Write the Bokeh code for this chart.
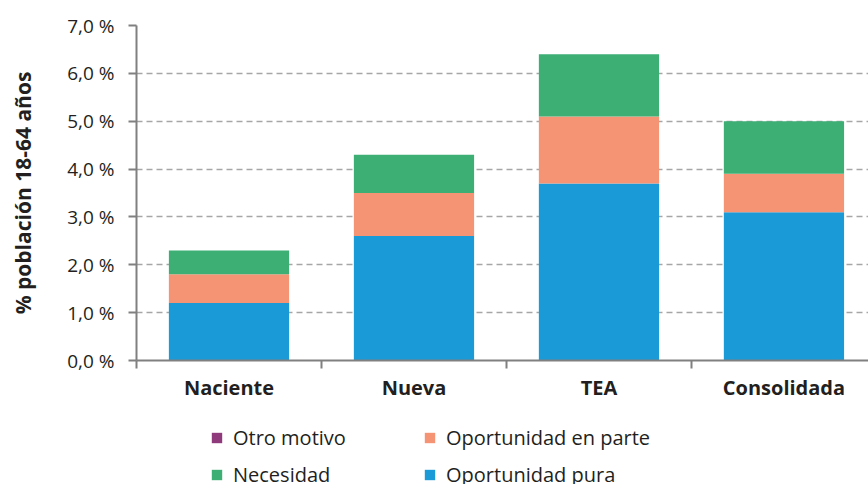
from bokeh.plotting import figure
from bokeh.layouts import column
from bokeh.models import ColumnDataSource, FixedTicker, Legend, LegendItem
from bokeh.embed import file_html
from bokeh.resources import INLINE

categories = ["Naciente", "Nueva", "TEA", "Consolidada"]
oportunidad_pura = [1.2, 2.6, 3.7, 3.1]
oportunidad_parte = [0.6, 0.9, 1.4, 0.8]
necesidad = [0.5, 0.8, 1.3, 1.1]
otro_motivo = [0.0, 0.0, 0.0, 0.0]
y_ticks = [0, 1, 2, 3, 4, 5, 6, 7]
y_tick_labels = ["0,0 %", "1,0 %", "2,0 %", "3,0 %", "4,0 %", "5,0 %", "6,0 %", "7,0 %"]

series = ["pura", "parte", "nec", "otro"]
names = ["Oportunidad pura", "Oportunidad en parte", "Necesidad", "Otro motivo"]
colors = ["#1a9ad6", "#f59475", "#3daf74", "#8e3a7b"]

xs = [i + 0.5 for i in range(len(categories))]
src = ColumnDataSource(dict(x=xs, pura=oportunidad_pura, parte=oportunidad_parte,
                            nec=necesidad, otro=otro_motivo))

FONT = "Open Sans"
TXT = "#231f20"
AX = "#808080"

p = figure(width=868, height=420, x_range=(0, 3.957), y_range=(0, 7),
           output_backend="svg", toolbar_location=None,
           min_border_left=136, min_border_right=0, min_border_top=25, min_border_bottom=60)
p.outline_line_color = None
p.background_fill_color = "white"

rs = p.vbar_stack(series, x="x", width=0.65, color=colors, line_color=None, source=src)

# x axis
p.xgrid.grid_line_color = None
p.xaxis.ticker = FixedTicker(ticks=xs, minor_ticks=[0, 1, 2, 3, 4])
p.xaxis.major_label_overrides = {x: c for x, c in zip(xs, categories)}
p.xaxis.major_tick_line_color = None
p.xaxis.minor_tick_out = 8
p.xaxis.minor_tick_in = 0
p.xaxis.minor_tick_line_color = AX
p.xaxis.minor_tick_line_width = 2
p.xaxis.axis_line_color = AX
p.xaxis.axis_line_width = 2
p.xaxis.major_label_text_font = FONT
p.xaxis.major_label_text_font_style = "bold"
p.xaxis.major_label_text_font_size = "20px"
p.xaxis.major_label_text_color = TXT
p.xaxis.major_label_standoff = 5

# y axis
p.yaxis.ticker = FixedTicker(ticks=y_ticks)
p.yaxis.major_label_overrides = {t: l for t, l in zip(y_ticks, y_tick_labels)}
p.yaxis.minor_tick_line_color = None
p.yaxis.major_tick_out = 8
p.yaxis.major_tick_in = 0
p.yaxis.major_tick_line_color = AX
p.yaxis.major_tick_line_width = 2
p.yaxis.axis_line_color = AX
p.yaxis.axis_line_width = 2
p.yaxis.major_label_text_font = FONT
p.yaxis.major_label_text_font_size = "19px"
p.yaxis.major_label_text_color = TXT
p.yaxis.major_label_standoff = 14
p.yaxis.axis_label = "% población 18-64 años"
p.yaxis.axis_label_text_font = FONT
p.yaxis.axis_label_text_font_style = "bold"
p.yaxis.axis_label_text_font_size = "21px"
p.yaxis.axis_label_text_color = TXT
p.yaxis.axis_label_standoff = 27

p.ygrid.grid_line_color = "#a6a6a6"
p.ygrid.grid_line_dash = "6 4"
p.ygrid.grid_line_width = 1.5

# legend in its own strip below the chart (swatch renderers sit outside the visible range)
pl = figure(width=868, height=64, x_range=(0, 1), y_range=(0, 1),
            output_backend="svg", toolbar_location=None,
            x_axis_location=None, y_axis_location=None, min_border=0)
pl.outline_line_color = None
pl.grid.grid_line_color = None
lr = [pl.vbar(x=[-10], top=[0], width=0.5, color=c, line_color=None) for c in colors]

items = [
    LegendItem(label=names[3], renderers=[lr[3]]),
    LegendItem(label=names[1], renderers=[lr[1]]),
    LegendItem(label=names[2], renderers=[lr[2]]),
    LegendItem(label=names[0], renderers=[lr[0]]),
]
legend = Legend(items=items, orientation="horizontal", ncols=2,
                location=(74, -4), margin=0, padding=0,
                border_line_color=None, background_fill_alpha=0,
                glyph_width=13, glyph_height=13, label_standoff=10,
                label_height=20, label_width=180, spacing=10,
                label_text_font=FONT, label_text_font_size="20px",
                label_text_color=TXT)
pl.add_layout(legend, "center")

layout = column(p, pl, spacing=0)
open("out.html", "w").write(file_html(layout, INLINE))
